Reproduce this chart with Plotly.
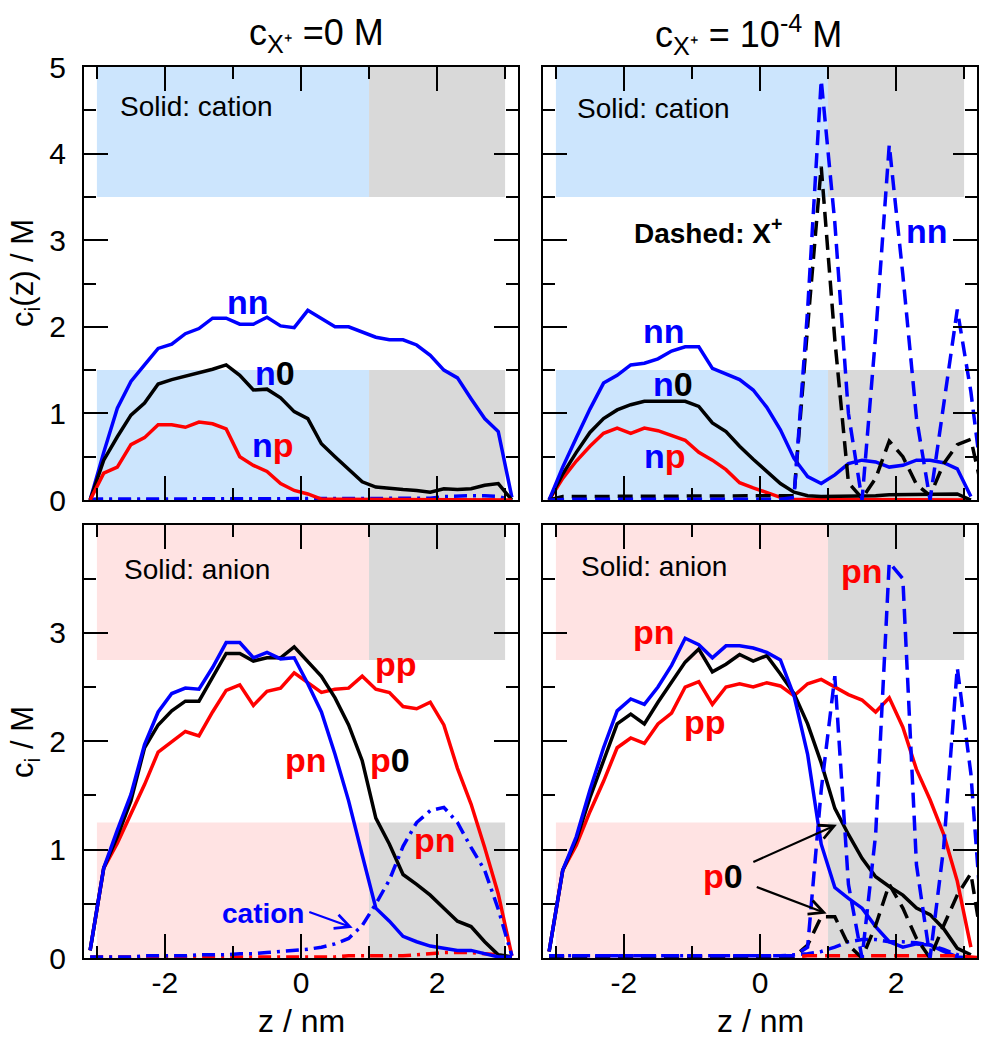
import plotly.graph_objects as go

# ---------------- data ----------------
Z = [-3.1, -2.9, -2.7, -2.5, -2.3, -2.1, -1.9, -1.7, -1.5, -1.3, -1.1, -0.9, -0.7, -0.5, -0.3, -0.1,
     0.1, 0.3, 0.5, 0.7, 0.9, 1.1, 1.3, 1.5, 1.7, 1.9, 2.1, 2.3, 2.5, 2.7, 2.9, 3.1]
Z_EXT = Z + [3.3]

# top-left: c_X+ = 0, cation profiles
tl_nn = [0, 0.55, 1.06, 1.37, 1.56, 1.75, 1.80, 1.92, 1.98, 2.10, 2.10, 2.03, 2.03, 2.11, 2.01, 1.99,
         2.19, 2.09, 2.00, 2.00, 1.94, 1.88, 1.85, 1.85, 1.79, 1.67, 1.50, 1.41, 1.17, 0.94, 0.79, 0.03]
tl_n0 = [0, 0.46, 0.73, 0.98, 1.12, 1.34, 1.39, 1.43, 1.46, 1.51, 1.56, 1.44, 1.27, 1.28, 1.18, 1.02,
         0.94, 0.65, 0.50, 0.35, 0.21, 0.15, 0.13, 0.12, 0.11, 0.09, 0.13, 0.12, 0.13, 0.17, 0.19, 0]
tl_np = [0, 0.31, 0.38, 0.64, 0.72, 0.87, 0.87, 0.84, 0.90, 0.88, 0.82, 0.50, 0.40, 0.33, 0.19, 0.11,
         0.07, 0.01, 0.01, 0.01, 0.01, 0.01, 0.01, 0.01, 0.01, 0.01, 0.01, 0.01, 0.01, 0.01, 0.01, 0]
tl_anion_nn = [0.01, 0.01, 0.01, 0.01, 0.01, 0.01, 0.01, 0.01, 0.01, 0.01, 0.01, 0.01, 0.01, 0.01, 0.01, 0.01,
               0.01, 0.01, 0.01, 0.01, 0.01, 0.01, 0.01, 0.01, 0.02, 0.02, 0.04, 0.05, 0.05, 0.05, 0.04, 0]
tl_anion_np = [0, 0, 0, 0, 0, 0, 0, 0, 0, 0, 0, 0, 0, 0, 0, 0,
               0.005, 0.01, 0.01, 0.01, 0.01, 0.01, 0.01, 0.01, 0.01, 0.01, 0.01, 0.01, 0.01, 0.01, 0.01, 0]

# top-right: c_X+ = 1e-4 M
tr_nn = [0, 0.38, 0.72, 1.05, 1.35, 1.44, 1.56, 1.58, 1.63, 1.72, 1.77, 1.77, 1.52, 1.46, 1.39, 1.27,
         1.07, 0.81, 0.48, 0.27, 0.19, 0.29, 0.42, 0.46, 0.44, 0.38, 0.40, 0.46, 0.46, 0.43, 0.36, 0.04]
tr_n0 = [0, 0.30, 0.55, 0.78, 0.94, 1.04, 1.10, 1.14, 1.14, 1.14, 1.14, 1.08, 0.89, 0.79, 0.62, 0.47,
         0.33, 0.19, 0.09, 0.05, 0.04, 0.04, 0.05, 0.05, 0.05, 0.06, 0.06, 0.06, 0.06, 0.07, 0.07, 0]
tr_np = [0, 0.25, 0.45, 0.62, 0.77, 0.83, 0.77, 0.83, 0.80, 0.75, 0.69, 0.55, 0.46, 0.35, 0.20, 0.14,
         0.08, 0.03, 0.01, 0.01, 0.01, 0.01, 0.01, 0.01, 0.01, 0.01, 0.01, 0.01, 0.01, 0.01, 0.01, 0]
tr_x_nn = [0, 0.01, 0.01, 0.01, 0.01, 0.01, 0.01, 0.01, 0.01, 0.01, 0.01, 0.01, 0.01, 0.01, 0.01, 0.01,
           0.01, 0.01, 0.03, 2.2, 4.85, 3.2, 1.0, 0.0, 1.9, 4.1, 2.6, 0.95, 0.0, 1.1, 2.2, 1.25, 0]
tr_x_n0 = [0, 0.04, 0.04, 0.04, 0.04, 0.04, 0.04, 0.04, 0.04, 0.04, 0.04, 0.04, 0.04, 0.04, 0.04, 0.04,
           0.04, 0.04, 0.05, 2.0, 3.85, 1.85, 0.2, 0.02, 0.25, 0.68, 0.5, 0.18, 0.05, 0.42, 0.64, 0.7, 0]

# bottom-left: c_X+ = 0, anion profiles
bl_pn = [0.07, 0.83, 1.18, 1.51, 1.97, 2.27, 2.44, 2.49, 2.48, 2.68, 2.91, 2.91, 2.77, 2.82, 2.76, 2.77,
         2.53, 2.27, 1.88, 1.45, 0.95, 0.46, 0.34, 0.20, 0.15, 0.11, 0.09, 0.07, 0.07, 0.04, 0.01, 0.01]
bl_p0 = [0.07, 0.83, 1.12, 1.45, 1.94, 2.15, 2.28, 2.37, 2.37, 2.59, 2.81, 2.81, 2.74, 2.77, 2.77, 2.87,
         2.74, 2.60, 2.40, 2.15, 1.82, 1.29, 1.05, 0.77, 0.68, 0.58, 0.46, 0.34, 0.29, 0.15, 0.03, 0.01]
bl_pp = [0.07, 0.83, 1.06, 1.33, 1.60, 1.90, 2.00, 2.09, 2.05, 2.27, 2.47, 2.52, 2.33, 2.46, 2.49, 2.63,
         2.54, 2.45, 2.48, 2.49, 2.60, 2.48, 2.45, 2.32, 2.30, 2.36, 2.15, 1.75, 1.42, 1.02, 0.59, 0.02]
bl_cation_pn = [0.01, 0.01, 0.01, 0.01, 0.02, 0.02, 0.02, 0.02, 0.03, 0.03, 0.03, 0.04, 0.04, 0.05, 0.06, 0.07,
                0.08, 0.10, 0.13, 0.18, 0.30, 0.50, 0.72, 1.03, 1.25, 1.36, 1.39, 1.25, 1.02, 0.81, 0.45, 0.02]
bl_cation_pp = [0.01, 0.01, 0.01, 0.01, 0.01, 0.01, 0.01, 0.01, 0.01, 0.01, 0.01, 0.01, 0.01, 0.01, 0.01, 0.01,
                0.01, 0.01, 0.01, 0.02, 0.02, 0.02, 0.02, 0.02, 0.03, 0.04, 0.05, 0.05, 0.05, 0.04, 0.03, 0]

# bottom-right: c_X+ = 1e-4 M
br_pn = [0.06, 0.81, 1.12, 1.55, 1.94, 2.28, 2.39, 2.34, 2.50, 2.70, 2.95, 2.89, 2.77, 2.88, 2.88, 2.86,
         2.82, 2.75, 2.42, 1.88, 1.05, 0.65, 0.55, 0.46, 0.29, 0.15, 0.10, 0.13, 0.12, 0.06, 0.01, 0.0]
br_p0 = [0.06, 0.81, 1.09, 1.48, 1.82, 2.16, 2.25, 2.16, 2.36, 2.54, 2.73, 2.85, 2.64, 2.71, 2.80, 2.74,
         2.79, 2.62, 2.44, 2.16, 1.80, 1.38, 1.14, 0.92, 0.75, 0.66, 0.58, 0.46, 0.40, 0.27, 0.09, 0.03]
br_pp = [0.06, 0.81, 1.04, 1.35, 1.63, 1.94, 2.03, 1.98, 2.16, 2.26, 2.50, 2.55, 2.34, 2.50, 2.53, 2.50,
         2.54, 2.51, 2.42, 2.53, 2.57, 2.50, 2.43, 2.38, 2.27, 2.40, 2.13, 1.74, 1.46, 1.14, 0.71, 0.10]
br_x_pn = [0.02, 0.02, 0.02, 0.02, 0.02, 0.02, 0.02, 0.02, 0.02, 0.02, 0.02, 0.02, 0.02, 0.02, 0.02, 0.02,
           0.02, 0.02, 0.02, 0.10, 1.55, 2.6, 0.68, 0.0, 1.14, 3.65, 3.5, 0.86, 0.0, 1.02, 2.68, 1.7, 0]
br_x_p0 = [0.01, 0.01, 0.01, 0.01, 0.01, 0.01, 0.01, 0.01, 0.01, 0.01, 0.01, 0.01, 0.01, 0.01, 0.01, 0.01,
           0.01, 0.01, 0.01, 0.12, 0.38, 0.38, 0.12, 0.0, 0.3, 0.68, 0.46, 0.18, 0.0, 0.3, 0.58, 0.78, 0]
br_x_pp = [0.01, 0.01, 0.01, 0.01, 0.01, 0.01, 0.01, 0.01, 0.01, 0.01, 0.01, 0.01, 0.01, 0.01, 0.01, 0.01,
           0.01, 0.01, 0.01, 0.02, 0.02, 0.02, 0.02, 0.02, 0.02, 0.02, 0.02, 0.02, 0.02, 0.02, 0.02, 0.01, 0]
br_cation_pn = [0.02, 0.02, 0.02, 0.02, 0.02, 0.02, 0.02, 0.02, 0.02, 0.02, 0.02, 0.02, 0.02, 0.02, 0.02, 0.02,
                0.02, 0.02, 0.03, 0.04, 0.06, 0.10, 0.15, 0.17, 0.17, 0.15, 0.15, 0.14, 0.12, 0.08, 0.03, 0.0]

X_RANGE = [-3.19, 3.19]
X_TICKS = [-2, 0, 2]
X_TICK_LABELS = ["-2", "0", "2"]
TOP_Y_RANGE = [0, 5]
BOT_Y_RANGE = [0, 3.995]

# ---------------- style ----------------
FONT = "Liberation Sans, Arial, Helvetica, sans-serif"
BLUE, RED, BLACK = "#0000ff", "#ff0000", "#000000"
LBLUE, GRAY, PINK = "#cce5fd", "#d9d9d9", "#ffe3e3"
LW = 3.5
DASH = "15px,8px"
DASHDOT = "13px,6px,3px,6px"

W, H = 982, 1040
PAN = {
    "tl": (84, 518, 67, 500),
    "tr": (543, 977, 67, 500),
    "bl": (84, 518, 525, 958),
    "br": (543, 977, 525, 958),
}
AX = {"tl": ("x", "y"), "tr": ("x2", "y2"), "bl": ("x3", "y3"), "br": ("x4", "y4")}

fig = go.Figure()


def add_line(panel, x, y, color, dash="solid"):
    xa, ya = AX[panel]
    fig.add_trace(go.Scatter(x=x, y=y, mode="lines", xaxis=xa, yaxis=ya,
                             line=dict(color=color, width=LW, dash=dash),
                             showlegend=False, hoverinfo="skip"))


# top-left
add_line("tl", Z, tl_anion_np, RED, DASHDOT)
add_line("tl", Z, tl_anion_nn, BLUE, DASHDOT)
add_line("tl", Z, tl_nn, BLUE)
add_line("tl", Z, tl_n0, BLACK)
add_line("tl", Z, tl_np, RED)
# top-right
add_line("tr", Z, tr_np, RED)
add_line("tr", Z, tr_n0, BLACK)
add_line("tr", Z, tr_nn, BLUE)
add_line("tr", Z_EXT, tr_x_n0, BLACK, DASH)
add_line("tr", Z_EXT, tr_x_nn, BLUE, DASH)
# bottom-left
add_line("bl", Z, bl_cation_pp, RED, DASHDOT)
add_line("bl", Z, bl_pp, RED)
add_line("bl", Z, bl_p0, BLACK)
add_line("bl", Z, bl_pn, BLUE)
add_line("bl", Z, bl_cation_pn, BLUE, DASHDOT)
# bottom-right
add_line("br", Z, br_pp, RED)
add_line("br", Z, br_p0, BLACK)
add_line("br", Z, br_pn, BLUE)
add_line("br", Z, br_cation_pn, BLUE, DASHDOT)
add_line("br", Z_EXT, br_x_pp, RED, DASH)
add_line("br", Z_EXT, br_x_p0, BLACK, DASH)
add_line("br", Z_EXT, br_x_pn, BLUE, DASH)


def band(panel, x0, x1, y0, y1, color):
    xa, ya = AX[panel]
    fig.add_shape(type="rect", xref=xa, yref=ya, x0=x0, x1=x1, y0=y0, y1=y1,
                  fillcolor=color, line_width=0, layer="below")

for p in ("tl", "tr"):
    band(p, -3, 1, 3.5, 5, LBLUE)
    band(p, 1, 3, 3.5, 5, GRAY)
    band(p, -3, 1, 0, 1.5, LBLUE)
    band(p, 1, 3, 0, 1.5, GRAY)
for p in ("bl", "br"):
    band(p, -3, 1, 2.75, 4, PINK)
    band(p, 1, 3, 2.75, 4, GRAY)
    band(p, -3, 1, 0, 1.25, PINK)
    band(p, 1, 3, 0, 1.25, GRAY)


def dom_x(l, r):
    return [l / W, r / W]

def dom_y(t, b):
    return [1 - b / H, 1 - t / H]

COMMON = dict(ticks="inside", ticklen=24, tickwidth=2, tickcolor="black",
              showline=True, linewidth=2, linecolor="black", mirror="allticks",
              showgrid=False, zeroline=False, fixedrange=True, automargin=False,
              tickfont=dict(family=FONT, size=30, color="black"))

def xaxis(panel, labels, anchor):
    l, r, t, b = PAN[panel]
    return dict(COMMON, domain=dom_x(l, r), range=X_RANGE, anchor=anchor,
                tickmode="array", tickvals=X_TICKS, ticktext=X_TICK_LABELS,
                minor=dict(tickmode="linear", tick0=0, dtick=1, ticks="inside", ticklen=12,
                           tickwidth=2, tickcolor="black", showgrid=False),
                showticklabels=labels, ticklabelstandoff=-3)

def yaxis(panel, labels, rng, anchor):
    l, r, t, b = PAN[panel]
    return dict(COMMON, domain=dom_y(t, b), range=rng, anchor=anchor,
                tickmode="linear", tick0=0, dtick=1,
                minor=dict(tickmode="linear", tick0=0, dtick=0.5, ticks="inside", ticklen=12,
                           tickwidth=2, tickcolor="black", showgrid=False),
                showticklabels=labels, ticklabelstandoff=10)

fig.update_layout(
    template="none",
    width=W, height=H, autosize=False,
    margin=dict(l=0, r=0, t=0, b=0, pad=0),
    paper_bgcolor="white", plot_bgcolor="white",
    font=dict(family=FONT, color="black"),
    xaxis=xaxis("tl", False, "y"),
    yaxis=yaxis("tl", True, TOP_Y_RANGE, "x"),
    xaxis2=xaxis("tr", False, "y2"),
    yaxis2=yaxis("tr", False, TOP_Y_RANGE, "x2"),
    xaxis3=xaxis("bl", True, "y3"),
    yaxis3=yaxis("bl", True, BOT_Y_RANGE, "x3"),
    xaxis4=xaxis("br", True, "y4"),
    yaxis4=yaxis("br", False, BOT_Y_RANGE, "x4"),
)

# ---------------- text ----------------
def ptext(x, y, text, size, **kw):
    fig.add_annotation(xref="paper", yref="paper", x=x / W, y=1 - y / H, text=text,
                       showarrow=False, font=dict(family=FONT, size=size, color=kw.pop("color", "black")),
                       xanchor=kw.pop("xanchor", "center"), yanchor=kw.pop("yanchor", "middle"), **kw)

ptext(316, 35, "c<sub>X\u207a</sub> =0 M", 36)
ptext(748, 35, "c<sub>X\u207a</sub> = 10<sup>-4</sup> M", 36)
ptext(25, 273, "c<sub>i</sub>(z) / M", 31, textangle=-90)
ptext(25, 742, "c<sub>i</sub> / M", 31, textangle=-90)
ptext(301, 1021, "z / nm", 32)
ptext(760, 1021, "z / nm", 32)

def B(t, c):
    return f"<span style='color:{c}'><b>{t}</b></span>"

LBL = 34
# top-left
ptext(118, 107, "Solid: cation", 28, xanchor="left")
ptext(248, 302, B("nn", BLUE), LBL)
ptext(275, 373, B("n", BLUE) + B("0", BLACK), LBL)
ptext(273, 445, B("n", BLUE) + B("p", RED), LBL)
# top-right
ptext(575, 109, "Solid: cation", 28, xanchor="left")
ptext(708, 231, "<b>Dashed: X<sup>+</sup></b>", 28)
ptext(927, 231, B("nn", BLUE), LBL)
ptext(664, 331, B("nn", BLUE), LBL)
ptext(673, 384, B("n", BLUE) + B("0", BLACK), LBL)
ptext(665, 456, B("n", BLUE) + B("p", RED), LBL)
# bottom-left
ptext(122, 569, "Solid: anion", 28, xanchor="left")
ptext(396, 664, B("pp", RED), LBL)
ptext(306, 760, B("pn", RED), LBL)
ptext(390, 760, B("p", RED) + B("0", BLACK), LBL)
ptext(435, 840, B("pn", RED), LBL)
ptext(263, 913, B("cation", BLUE), 28)
# bottom-right
ptext(579, 566, "Solid: anion", 28, xanchor="left")
ptext(862, 571, B("pn", RED), LBL)
ptext(654, 632, B("pn", RED), LBL)
ptext(705, 722, B("pp", RED), LBL)
ptext(723, 876, B("p", RED) + B("0", BLACK), LBL)


def arrow(panel, x0, y0, x1, y1, color):
    xa, ya = AX[panel]
    fig.add_annotation(xref=xa, yref=ya, axref=xa, ayref=ya, x=x1, y=y1, ax=x0, ay=y0,
                       text="", showarrow=True, arrowhead=5, arrowsize=1.3, arrowwidth=2.2,
                       arrowcolor=color)

arrow("bl", 0.10, 0.43, 0.76, 0.28, BLUE)
arrow("br", -0.12, 0.88, 1.13, 1.23, BLACK)
arrow("br", -0.07, 0.66, 0.98, 0.41, BLACK)

fig.write_html("out.html")
